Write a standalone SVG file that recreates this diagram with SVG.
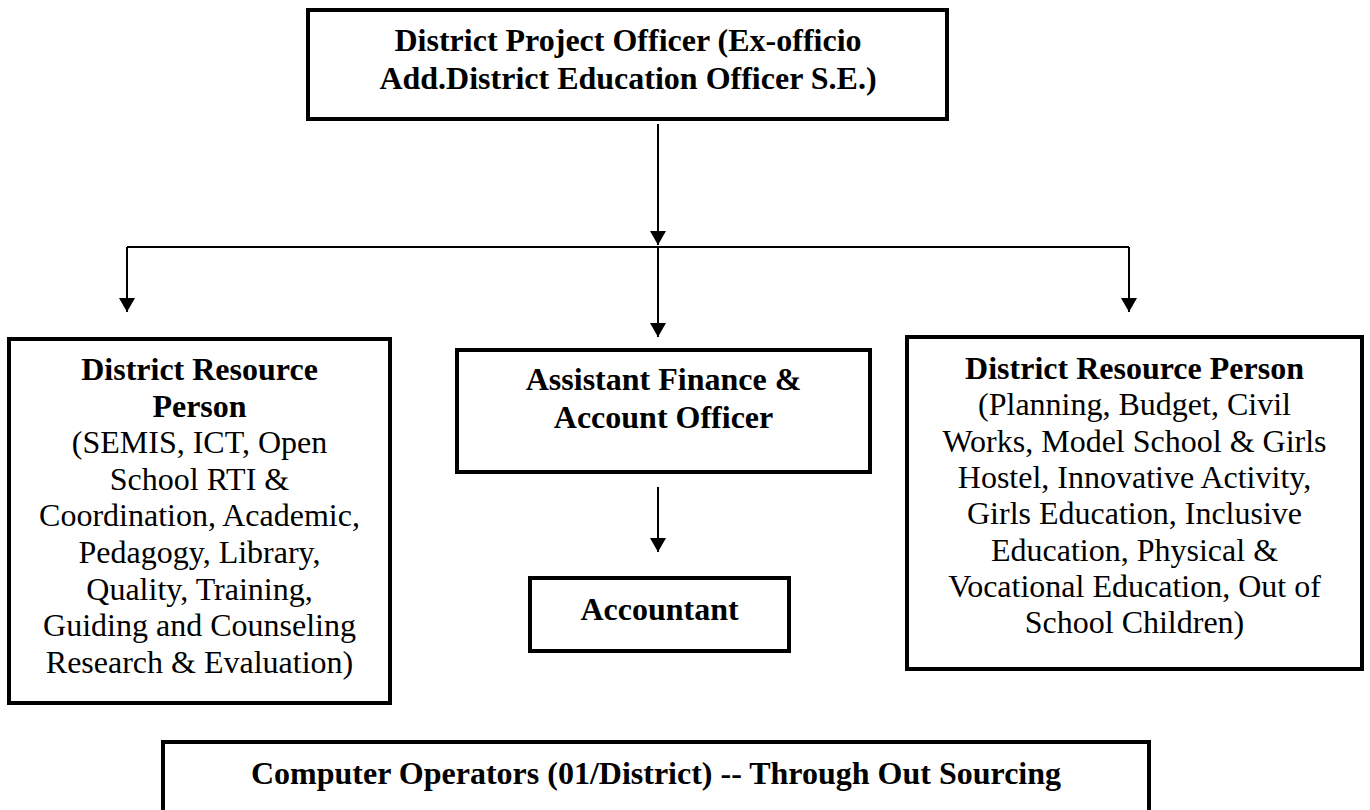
<svg xmlns="http://www.w3.org/2000/svg" width="1370" height="810" viewBox="0 0 1370 810">
<style>
.box{fill:#fff;stroke:#000;stroke-width:4}
.t{font-family:"Liberation Serif","Times New Roman",serif;font-size:32px;fill:#000;text-anchor:middle}
.b{font-weight:bold}
.c{fill:none;stroke:#000;stroke-width:2}
</style>
<defs>
<marker id="ah" viewBox="0 0 14 16" refX="14" refY="8" markerWidth="14" markerHeight="16" markerUnits="userSpaceOnUse" orient="auto">
<path d="M0,0 L14,8 L0,16 z" fill="#000"/>
</marker>
</defs>
<rect width="1370" height="810" fill="#fff"/>
<g id="connectors">
<path class="c" d="M658,124 L658,245" marker-end="url(#ah)"/>
<path class="c" d="M127,247 L1129,247"/>
<path class="c" d="M127,247 L127,312" marker-end="url(#ah)"/>
<path class="c" d="M658,247 L658,337" marker-end="url(#ah)"/>
<path class="c" d="M1129,247 L1129,312" marker-end="url(#ah)"/>
<path class="c" d="M658,487 L658,552" marker-end="url(#ah)"/>
</g>
<g id="dpo">
<rect class="box" x="308" y="10" width="639" height="109"/>
<text class="t b" x="628" y="51">District Project Officer (Ex-officio</text>
<text class="t b" x="628" y="89">Add.District Education Officer S.E.)</text>
</g>
<g id="drp-left">
<rect class="box" x="9" y="339" width="381" height="364"/>
<text class="t" x="199.5" y="380"><tspan class="b">District Resource</tspan><tspan class="b" x="199.5" dy="36.6">Person</tspan><tspan x="199.5" dy="36.6">(SEMIS, ICT, Open</tspan><tspan x="199.5" dy="36.6">School RTI &amp;</tspan><tspan x="199.5" dy="36.6">Coordination, Academic,</tspan><tspan x="199.5" dy="36.6">Pedagogy, Library,</tspan><tspan x="199.5" dy="36.6">Quality, Training,</tspan><tspan x="199.5" dy="36.6">Guiding and Counseling</tspan><tspan x="199.5" dy="36.6">Research &amp; Evaluation)</tspan></text>
</g>
<g id="afao">
<rect class="box" x="457" y="350" width="413" height="122"/>
<text class="t b" x="663.5" y="390">Assistant Finance &amp;</text>
<text class="t b" x="663.5" y="428">Account Officer</text>
</g>
<g id="accountant">
<rect class="box" x="530" y="578" width="259" height="73"/>
<text class="t b" x="659.5" y="620">Accountant</text>
</g>
<g id="drp-right">
<rect class="box" x="907" y="337" width="455" height="332"/>
<text class="t" x="1134.5" y="379"><tspan class="b">District Resource Person</tspan><tspan x="1134.5" dy="36.3">(Planning, Budget, Civil</tspan><tspan x="1134.5" dy="36.3">Works, Model School &amp; Girls</tspan><tspan x="1134.5" dy="36.3">Hostel, Innovative Activity,</tspan><tspan x="1134.5" dy="36.3">Girls Education, Inclusive</tspan><tspan x="1134.5" dy="36.3">Education, Physical &amp;</tspan><tspan x="1134.5" dy="36.3">Vocational Education, Out of</tspan><tspan x="1134.5" dy="36.3">School Children)</tspan></text>
</g>
<g id="computer-operators">
<rect class="box" x="163" y="742" width="986" height="76"/>
<text class="t b" x="656" y="784">Computer Operators (01/District) -- Through Out Sourcing</text>
</g>
</svg>
